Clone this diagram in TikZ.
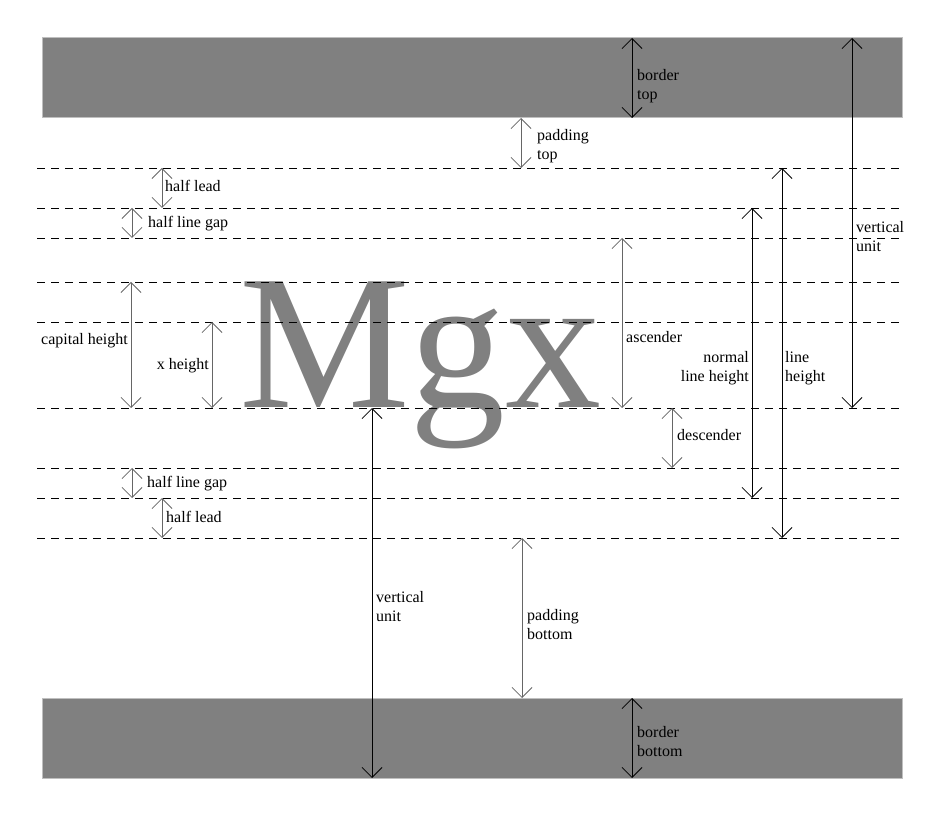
\documentclass[tikz,border=0pt]{standalone}
\usepackage{fontspec}
\setmainfont{Liberation Serif}
\usetikzlibrary{arrows.meta}

\begin{document}
\begin{tikzpicture}[x=1pt,y=-1pt,
   band/.style={fill=gray,draw=black!25,line width=1pt},
   guide/.style={dash pattern=on 8pt off 6pt,line width=0.8pt},
   dim/.style={draw=black!60,line width=0.8pt,
     {Straight Barb[length=10pt,width=20pt]}-{Straight Barb[length=10pt,width=20pt]}},
   dimdark/.style={dim,draw=black},
   lbl/.style={font=\fontsize{16}{19}\selectfont,inner sep=0pt,align=left}]

\useasboundingbox (0,0) rectangle (946,818);

% borders
\draw[band] (42,38) rectangle (902,118);
\draw[band] (42,698) rectangle (902,778);

% the sample glyphs
\node[anchor=base west,inner sep=0pt,text=gray,
      font=\fontsize{192}{192}\selectfont] (mgx) at (239,408) {Mgx};

% guide lines
\draw[guide] (37,168) -- (902,168);
\draw[guide] (37,208) -- (902,208);
\draw[guide] (37,238) -- (902,238);
\draw[guide] (37,282) -- (902,282);
\draw[guide] (37,322) -- (902,322);
\draw[guide] (37,408) -- (902,408);
\draw[guide] (37,468) -- (902,468);
\draw[guide] (37,498) -- (902,498);
\draw[guide] (37,538) -- (902,538);

% arrow ends
\coordinate (bt1) at (632,38);  \coordinate (bt2) at (632,118);
\coordinate (pt1) at (521,118); \coordinate (pt2) at (521,168);
\coordinate (hl1) at (162,168); \coordinate (hl2) at (162,208);
\coordinate (hg1) at (132,208); \coordinate (hg2) at (132,238);
\coordinate (ch1) at (131,282); \coordinate (ch2) at (131,408);
\coordinate (xh1) at (212,322); \coordinate (xh2) at (212,408);
\coordinate (as1) at (622,238); \coordinate (as2) at (622,408);
\coordinate (de1) at (672,408); \coordinate (de2) at (672,468);
\coordinate (bg1) at (132,468); \coordinate (bg2) at (132,498);
\coordinate (bl1) at (162,498); \coordinate (bl2) at (162,538);
\coordinate (nl1) at (752,208); \coordinate (nl2) at (752,498);
\coordinate (lh1) at (782,168); \coordinate (lh2) at (782,538);
\coordinate (vr1) at (852,38);  \coordinate (vr2) at (852,408);
\coordinate (vb1) at (372,408); \coordinate (vb2) at (372,778);
\coordinate (pb1) at (522,538); \coordinate (pb2) at (522,698);
\coordinate (bb1) at (632,698); \coordinate (bb2) at (632,778);

% dimensions
\draw[dimdark] (bt1) -- (bt2);
\draw[dim] (pt1) -- (pt2);
\draw[dim] (hl1) -- (hl2);
\draw[dim] (hg1) -- (hg2);
\draw[dim] (ch1) -- (ch2);
\draw[dim] (xh1) -- (xh2);
\draw[dim] (as1) -- (as2);
\draw[dim] (de1) -- (de2);
\draw[dim] (bg1) -- (bg2);
\draw[dim] (bl1) -- (bl2);
\draw[dimdark] (nl1) -- (nl2);
\draw[dimdark] (lh1) -- (lh2);
\draw[dimdark] (vr1) -- (vr2);
\draw[dimdark] (vb1) -- (vb2);
\draw[dim] (pb1) -- (pb2);
\draw[dimdark] (bb1) -- (bb2);

% labels
\node[lbl,anchor=north west] (btl) at (637,69) {border\\top};
\node[lbl,anchor=north west] (ptl) at (537,129) {padding\\top};
\node[lbl,anchor=base west] (hll) at (165,192) {half lead};
\node[lbl,anchor=base west] (hgl) at (148,228) {half line gap};
\node[lbl,anchor=base east] (chl) at (128,345) {capital height};
\node[lbl,anchor=base east] (xhl) at (209,370) {x height};
\node[lbl,anchor=base west] (asl) at (626,343) {ascender};
\node[lbl,anchor=base west] (del) at (677,441) {descender};
\node[lbl,anchor=base west] (bgl) at (147,488) {half line gap};
\node[lbl,anchor=base west] (bll) at (166,522) {half lead};
\node[lbl,anchor=north east,align=right] (nll) at (749,351) {normal\\line height};
\node[lbl,anchor=north west] (lhl) at (785,351) {line\\height};
\node[lbl,anchor=north west] (vrl) at (856,221) {vertical\\unit};
\node[lbl,anchor=north west] (vbl) at (376,591) {vertical\\unit};
\node[lbl,anchor=north west] (pbl) at (527,609) {padding\\bottom};
\node[lbl,anchor=north west] (bbl) at (637,726) {border\\bottom};

\end{tikzpicture}
\end{document}
